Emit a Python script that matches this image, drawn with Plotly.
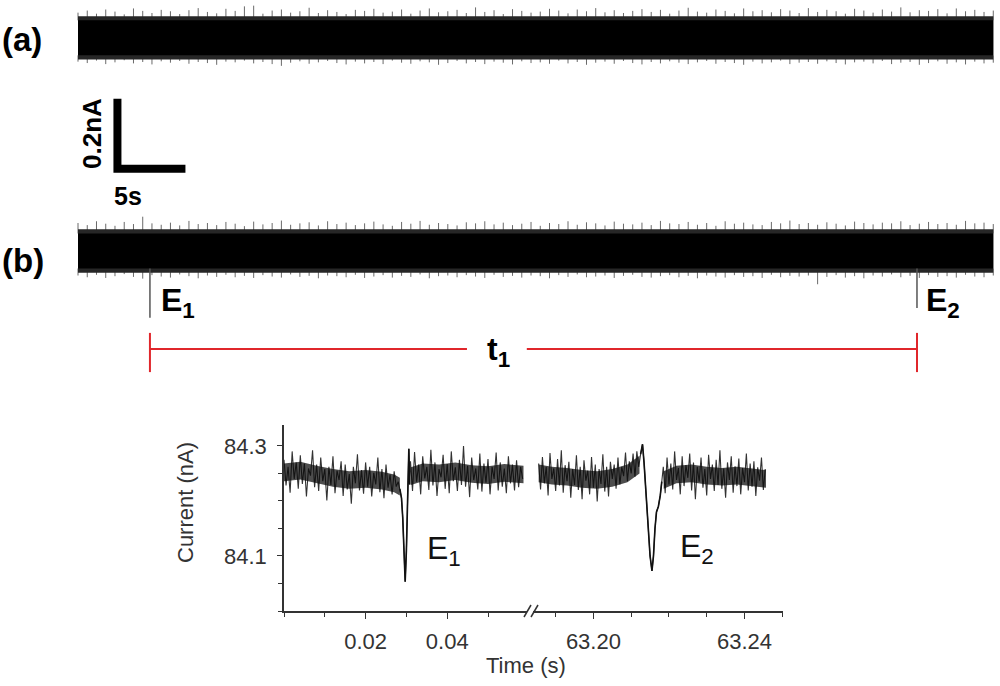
import numpy as np
import plotly.graph_objects as go

W, H = 1000, 686
FONT = "Arial, Liberation Sans, sans-serif"

# ---------------- data: long recordings (a) and (b) ----------------
trace_len_s = 67.3            # seconds shown in each long trace
a_base_nA = 0.609             # vertical offset of trace (a) (display offset)
b_base_nA = 0.0               # vertical offset of trace (b)
core_half_pA = 50             # half-width of the dense noise core
fringe_pA = 12                # dense dark fringe just outside the core
a_up_pA = [22,28,19,31,25,17,34,27,21,30, 26,18,29,35,24,20,33,27,40,42,
           19,28,31,22,26,36,21,29,24,18, 30,27,33,22,25,31,19,28,34,23,
           26,30,21,37,24,29,18,32,27,22, 25,33,28,20,31,26,35,23,29,21,
           27,32,24,30,19,28,36,25,22,31, 27,20,34,26,29,23,32,28,21,35,
           24,30,26,19,33,28,22,31,25,37, 23,29,27,32,20,34,26,30,24,28]
a_dn_pA = [18,22,15,25,20,14,23,19,26,17, 21,16,24,19,22,27,18,20,15,23,
           19,25,30,21,17,24,20,16,22,26, 18,23,19,25,15,21,24,17,20,27,
           22,16,23,19,25,18,21,26,17,22, 20,24,15,23,19,27,21,18,24,16,
           22,26,19,23,17,21,25,20,16,24, 19,22,27,18,23,20,15,25,21,19,
           24,17,22,26,20,18,23,16,25,21, 19,27,22,17,24,20,26,18,23,21]
b_up_pA = [30,24,35,28,22,33,27,48,29,25, 31,23,36,27,30,24,33,28,21,34,
           26,30,37,25,29,32,23,35,27,31, 24,29,34,26,22,33,28,36,25,30,
           27,23,32,29,35,26,31,24,28,33, 22,30,27,35,25,32,29,23,34,28,
           26,31,24,36,29,27,33,25,30,22, 35,28,31,26,24,33,29,37,27,30,
           25,32,28,23,34,30,26,31,29,35, 24,28,33,27,30,25,36,29,31,27]
b_dn_pA = [20,25,18,27,22,16,24,29,19,23, 26,17,22,28,20,24,18,25,21,27,
           19,23,26,17,24,21,28,20,22,25, 18,27,23,19,26,21,24,17,28,22,
           20,25,19,23,27,18,24,21,26,20, 22,28,19,24,17,25,23,20,27,21,
           18,24,26,22,19,25,21,28,20,23, 26,19,24,22,27,18,25,21,23,20,
           45,24,19,26,22,28,20,23,17,25, 21,27,19,24,22,26,18,23,25,20]

event_t_s = [5.29, 61.69]          # E1, E2 positions in trace (b)
event_mark_end_nA = [-0.191, -0.163]
event_names = ["E<sub>1</sub>", "E<sub>2</sub>"]
bracket_nA = -0.28
bracket_tick_nA = [-0.234, -0.346]
t1_label_s = 30.9
t1_gap_s = [28.6, 33.0]

scalebar_t0, scalebar_v0 = 2.9, 0.235
scalebar_dt, scalebar_dv = 5.0, 0.2

# ---------------- data: inset (zoomed events), current in nA ----------------
dt_inset = 0.0005
core_inset_nA = 0.016

L_pre_t0 = 0.0000
L_pre_v = [84.275, 84.228, 84.262, 84.215, 84.290, 84.240, 84.270, 84.222, 84.283, 84.231,
           84.268, 84.208, 84.259, 84.246, 84.292, 84.225, 84.266, 84.218, 84.279, 84.236,
           84.258, 84.201, 84.262, 84.229, 84.281, 84.214, 84.255, 84.238, 84.272, 84.209,
           84.266, 84.221, 84.249, 84.195, 84.262, 84.232, 84.285, 84.219, 84.256, 84.213,
           84.270, 84.226, 84.262, 84.208, 84.251, 84.230, 84.279, 84.216, 84.258, 84.205,
           84.266, 84.224, 84.248, 84.212, 84.254, 84.226, 84.235]
L_evt_t = [0.0284, 0.0288, 0.0291, 0.0294, 0.0297, 0.0300, 0.0302, 0.0304, 0.0306, 0.0308]
L_evt_v = [84.222, 84.205, 84.170, 84.120, 84.053, 84.110, 84.180, 84.250, 84.295, 84.230]
L_post_t0 = 0.0310
L_post_v = [84.272, 84.218, 84.289, 84.235, 84.266, 84.212, 84.281, 84.241, 84.262, 84.220,
            84.293, 84.228, 84.270, 84.209, 84.258, 84.243, 84.284, 84.222, 84.267, 84.214,
            84.290, 84.236, 84.261, 84.218, 84.275, 84.229, 84.300, 84.226, 84.264, 84.207,
            84.279, 84.238, 84.259, 84.221, 84.286, 84.217, 84.268, 84.233, 84.276, 84.212,
            84.262, 84.240, 84.288, 84.219, 84.270, 84.226, 84.259, 84.214, 84.281, 84.232,
            84.266, 84.219, 84.274, 84.225, 84.262, 84.240]
L_base_t = [0.000, 0.004, 0.008, 0.012, 0.016, 0.020, 0.024, 0.027, 0.0284, None,
            0.0311, 0.034, 0.038, 0.042, 0.046, 0.050, 0.054, 0.0587]
L_base_v = [84.252, 84.255, 84.248, 84.242, 84.238, 84.240, 84.237, 84.232, 84.226, None,
            84.245, 84.252, 84.250, 84.254, 84.249, 84.247, 84.251, 84.248]

R_pre_t0 = 63.1855
R_pre_v = [84.268, 84.221, 84.280, 84.232, 84.262, 84.210, 84.287, 84.240, 84.259, 84.218,
           84.276, 84.228, 84.292, 84.215, 84.265, 84.236, 84.271, 84.206, 84.258, 84.229,
           84.283, 84.220, 84.262, 84.203, 84.274, 84.237, 84.255, 84.212, 84.280, 84.224,
           84.266, 84.199, 84.258, 84.231, 84.285, 84.217, 84.262, 84.208, 84.271, 84.240,
           84.266, 84.222, 84.279, 84.230, 84.262, 84.245, 84.288, 84.236, 84.272, 84.250,
           84.286, 84.244, 84.290, 84.262]
R_evt_t = [63.2125, 63.2130, 63.2134, 63.2139, 63.2145, 63.2150, 63.2155, 63.2159,
           63.2163, 63.2167, 63.2172, 63.2177, 63.2181]
R_evt_v = [84.285, 84.303, 84.270, 84.220, 84.150, 84.100, 84.073, 84.100,
           84.150, 84.180, 84.190, 84.210, 84.235]
R_post_t0 = 63.2185
R_post_v = [84.262, 84.214, 84.279, 84.230, 84.268, 84.221, 84.290, 84.238, 84.260, 84.212,
            84.281, 84.227, 84.265, 84.242, 84.286, 84.219, 84.270, 84.203, 84.262, 84.235,
            84.279, 84.224, 84.258, 84.210, 84.284, 84.240, 84.266, 84.218, 84.275, 84.229,
            84.292, 84.222, 84.259, 84.206, 84.270, 84.238, 84.281, 84.215, 84.263, 84.227,
            84.277, 84.212, 84.260, 84.234, 84.286, 84.219, 84.268, 84.226, 84.272, 84.209,
            84.261, 84.237, 84.279, 84.220, 84.258]
R_base_t = [63.1855, 63.189, 63.193, 63.197, 63.201, 63.205, 63.209, 63.2122, None,
            63.2186, 63.222, 63.226, 63.230, 63.234, 63.238, 63.242, 63.2457]
R_base_v = [84.250, 84.246, 84.244, 84.240, 84.238, 84.242, 84.250, 84.266, None,
            84.238, 84.248, 84.250, 84.246, 84.244, 84.246, 84.243, 84.240]

# ---------------- helpers ----------------
def px(x):
    return x / W

def py(y):
    return 1 - y / H

fig = go.Figure()

def band(x0, x1, lo, hi, color, xa="x", ya="y"):
    fig.add_trace(go.Scatter(
        x=[x0, x1, x1, x0, x0], y=[lo, lo, hi, hi, lo],
        fill="toself", fillcolor=color, line=dict(width=0), mode="lines",
        hoverinfo="skip", xaxis=xa, yaxis=ya))

def long_trace(base, up, dn):
    core = core_half_pA / 1000.0
    fr = fringe_pA / 1000.0
    ts = np.linspace(0, trace_len_s, len(up))
    xs, ys = [], []
    for t, u in zip(ts, up):
        xs += [t, t, None]
        ys += [base + core, base + core + u / 1000.0, None]
    for t, d in zip(ts, dn):
        xs += [t, t, None]
        ys += [base - core, base - core - d / 1000.0, None]
    fig.add_trace(go.Scatter(x=xs, y=ys, mode="lines",
                             line=dict(color="#6a6a6a", width=1.0),
                             hoverinfo="skip"))
    band(0, trace_len_s, base - core - fr, base + core + fr, "#262626")
    band(0, trace_len_s, base - core, base + core, "#000000")

long_trace(a_base_nA, a_up_pA, a_dn_pA)
long_trace(b_base_nA, b_up_pA, b_dn_pA)

# event markers below trace (b)
core = core_half_pA / 1000.0
for t, e in zip(event_t_s, event_mark_end_nA):
    fig.add_trace(go.Scatter(x=[t, t], y=[b_base_nA - core, e], mode="lines",
                             line=dict(color="#555555", width=1.5), hoverinfo="skip"))

# red bracket t1
red = "#e0262b"
fig.add_trace(go.Scatter(
    x=[event_t_s[0], t1_gap_s[0], None, t1_gap_s[1], event_t_s[1], None,
       event_t_s[0], event_t_s[0], None, event_t_s[1], event_t_s[1]],
    y=[bracket_nA, bracket_nA, None, bracket_nA, bracket_nA, None,
       bracket_tick_nA[0], bracket_tick_nA[1], None, bracket_tick_nA[0], bracket_tick_nA[1]],
    mode="lines", line=dict(color=red, width=2), hoverinfo="skip"))

# scale bar
fig.add_trace(go.Scatter(
    x=[scalebar_t0, scalebar_t0, scalebar_t0 + scalebar_dt],
    y=[scalebar_v0 + scalebar_dv, scalebar_v0, scalebar_v0],
    mode="lines", line=dict(color="black", width=8), hoverinfo="skip"))

# inset traces
def sampled(t0, vals):
    return [round(t0 + dt_inset * i, 5) for i in range(len(vals))]

for pre_t0, pre_v, evt_t, evt_v, post_t0, post_v, bt, bv, xa in [
        (L_pre_t0, L_pre_v, L_evt_t, L_evt_v, L_post_t0, L_post_v, L_base_t, L_base_v, "x2"),
        (R_pre_t0, R_pre_v, R_evt_t, R_evt_v, R_post_t0, R_post_v, R_base_t, R_base_v, "x3")]:
    tt = sampled(pre_t0, pre_v) + list(evt_t) + sampled(post_t0, post_v)
    vv = list(pre_v) + list(evt_v) + list(post_v)
    fig.add_trace(go.Scatter(x=tt, y=vv, mode="lines",
                             line=dict(color="#333333", width=1.1),
                             hoverinfo="skip", xaxis=xa, yaxis="y2"))
    segs, cur = [], []
    for t, v in zip(bt, bv):
        if t is None:
            segs.append(cur)
            cur = []
        else:
            cur.append((t, v))
    segs.append(cur)
    for sg in segs:
        ts_ = [p[0] for p in sg]
        vs_ = [p[1] for p in sg]
        fig.add_trace(go.Scatter(
            x=ts_ + ts_[::-1],
            y=[v + core_inset_nA for v in vs_] + [v - core_inset_nA for v in vs_[::-1]],
            fill="toself", fillcolor="rgba(8,8,8,0.72)", line=dict(width=0),
            mode="lines", hoverinfo="skip", xaxis=xa, yaxis="y2"))
    fig.add_trace(go.Scatter(x=list(evt_t), y=list(evt_v), mode="lines",
                             line=dict(color="#111", width=1.6),
                             hoverinfo="skip", xaxis=xa, yaxis="y2"))

axcol = "#333333"
tickfont = dict(family=FONT, size=22, color="#333333")

fig.update_layout(
    width=W, height=H, margin=dict(l=0, r=0, t=0, b=0),
    paper_bgcolor="white", plot_bgcolor="rgba(0,0,0,0)", showlegend=False,
    xaxis=dict(domain=[0, 1], range=[-78 / 13.6, (1000 - 78) / 13.6], visible=False, anchor="y"),
    yaxis=dict(domain=[0, 1], range=[(251 - 686) / 350, 251 / 350], visible=False, anchor="x"),
    xaxis2=dict(domain=[px(284), px(527)], range=[0, 0.05956], anchor="y2",
                showline=True, linecolor=axcol, linewidth=1.5, showgrid=False, zeroline=False,
                ticks="outside", ticklen=6, tickwidth=1.3, tickcolor=axcol,
                tickvals=[0.02, 0.04], ticktext=["0.02", "0.04"], tickfont=tickfont,
                ticklabelstandoff=4,
                minor=dict(ticks="outside", tick0=0, dtick=0.01, ticklen=4, tickwidth=1.3, tickcolor=axcol, showgrid=False)),
    xaxis3=dict(domain=[px(533), px(783)], range=[63.184, 63.2502], anchor="y2",
                showline=True, linecolor=axcol, linewidth=1.5, showgrid=False, zeroline=False,
                ticks="outside", ticklen=6, tickwidth=1.3, tickcolor=axcol,
                tickvals=[63.20, 63.24], ticktext=["63.20", "63.24"], tickfont=tickfont,
                ticklabelstandoff=4,
                minor=dict(ticks="outside", tick0=63.19, dtick=0.01, ticklen=4, tickwidth=1.3, tickcolor=axcol, showgrid=False)),
    yaxis2=dict(domain=[py(611), py(425)], range=[84.0, 84.338], anchor="x2",
                showline=True, linecolor=axcol, linewidth=1.5, showgrid=False, zeroline=False,
                ticks="outside", ticklen=5, tickwidth=1.3, tickcolor=axcol,
                tickvals=[84.1, 84.3], ticktext=["84.1", "84.3"], tickfont=tickfont,
                ticklabelstandoff=6,
                minor=dict(ticks="outside", tick0=84.0, dtick=0.05, ticklen=4, tickwidth=1.3, tickcolor=axcol, showgrid=False)),
)

# axis break marks
for x0 in [524, 531]:
    fig.add_shape(type="line", xref="paper", yref="paper",
                  x0=px(x0), y0=py(617), x1=px(x0 + 7), y1=py(605),
                  line=dict(color=axcol, width=1.5))

def ann(text, x, y, size, bold=False, angle=0, xanchor="center", color="black"):
    fig.add_annotation(text=("<b>%s</b>" % text) if bold else text,
                       x=px(x), y=py(y), xref="paper", yref="paper",
                       xanchor=xanchor, yanchor="middle", showarrow=False,
                       textangle=angle, font=dict(family=FONT, size=size, color=color))

ann("(a)", 0, 40, 33, bold=True, xanchor="left")
ann("(b)", 0, 260, 33, bold=True, xanchor="left")
ann("0.2nA", 92, 134, 26, bold=True, angle=-90)
ann("5s", 128, 196, 25, bold=True)
ann(event_names[0], 159, 302, 32, bold=True, xanchor="left")
ann(event_names[1], 924, 302, 32, bold=True, xanchor="left")
fig.add_annotation(text="<b>t<sub>1</sub></b>", x=t1_label_s, y=bracket_nA, xref="x", yref="y",
                   yshift=-2, showarrow=False, font=dict(family=FONT, size=32, color="black"))
ann(event_names[0], 425, 550, 32, xanchor="left", color="#111")
ann(event_names[1], 678, 548, 32, xanchor="left", color="#111")
ann("Current (nA)", 185, 503, 22, angle=-90, color="#333333")
ann("Time (s)", 526, 665, 22, color="#333333")

fig.write_html("out.html", config={"displayModeBar": False},
               post_script="document.body.style.margin='0';document.body.style.overflow='hidden';")
